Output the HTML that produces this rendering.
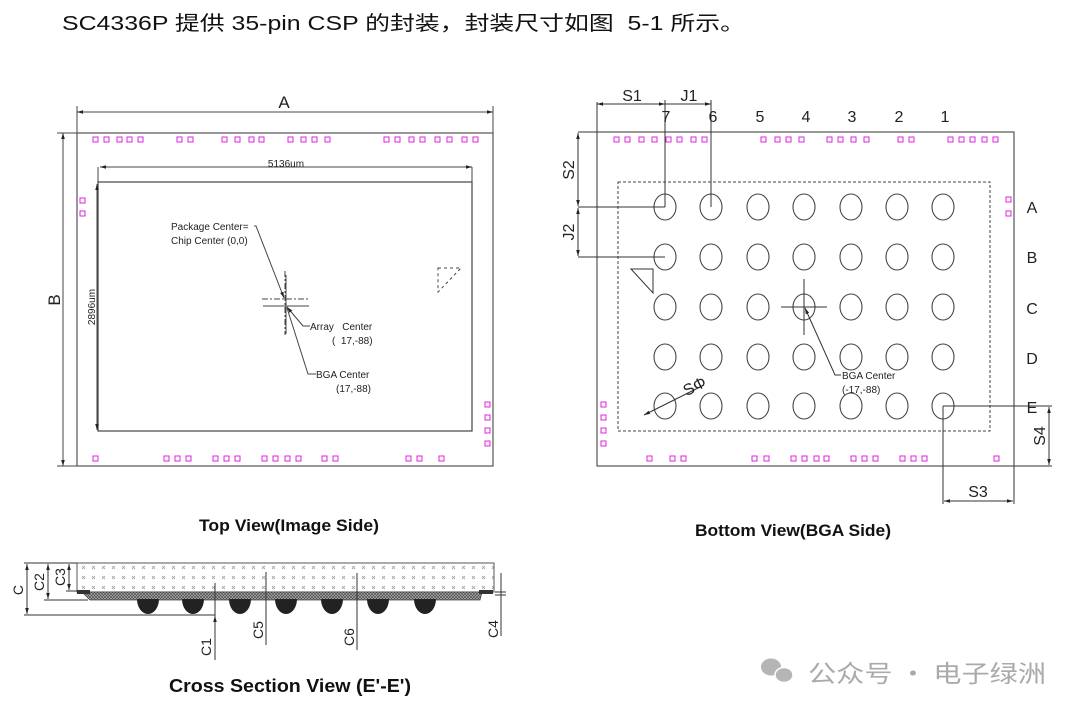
<!DOCTYPE html>
<html><head><meta charset="utf-8"><style>
html,body{margin:0;padding:0;background:#fff;}
svg{display:block;}
text{font-family:"Liberation Sans",Arial,sans-serif;}
</style></head><body>
<svg width="1080" height="715" viewBox="0 0 1080 715" xmlns="http://www.w3.org/2000/svg">
<defs>
<marker id="ar" viewBox="0 0 10 10" refX="10" refY="5" markerWidth="8" markerHeight="6" orient="auto-start-reverse"><path d="M0,2 L10,5 L0,8 z" fill="#222"/></marker>
<pattern id="dots" width="10" height="10" patternUnits="userSpaceOnUse" x="79" y="562"><path d="M3,4 l3,3 M3,7 l3,-3" stroke="#999" stroke-width="0.8"/></pattern>
<pattern id="xh" width="3" height="3" patternUnits="userSpaceOnUse"><rect width="3" height="3" fill="#aaa"/><path d="M0,0 L3,3 M3,0 L0,3" stroke="#444" stroke-width="0.6"/></pattern>
</defs>
<text x="62" y="30" font-size="20" fill="#111" textLength="683" lengthAdjust="spacingAndGlyphs" style="font-family:'Liberation Sans','Noto Sans CJK SC',sans-serif">SC4336P 提供 35-pin CSP 的封装，封装尺寸如图&#160; 5-1 所示。</text>

<!-- TOP VIEW -->
<g stroke="#555" fill="none" stroke-width="1.2">
<rect x="77" y="133" width="416" height="333"/>
<rect x="98" y="182" width="374" height="249" stroke="#444"/>
</g>
<g stroke="#444" stroke-width="1" fill="none">
<line x1="77" y1="112" x2="493" y2="112" marker-start="url(#ar)" marker-end="url(#ar)"/>
<line x1="77" y1="106" x2="77" y2="133"/><line x1="493" y1="106" x2="493" y2="133"/>
<line x1="63" y1="133" x2="63" y2="466" marker-start="url(#ar)" marker-end="url(#ar)"/>
<line x1="57" y1="133" x2="77" y2="133"/><line x1="57" y1="466" x2="77" y2="466"/>
<line x1="100" y1="167" x2="472" y2="167" marker-start="url(#ar)" marker-end="url(#ar)"/>
<line x1="98" y1="167" x2="98" y2="182"/><line x1="472" y1="167" x2="472" y2="182"/>
<line x1="97" y1="184" x2="97" y2="430" marker-start="url(#ar)" marker-end="url(#ar)"/>
<line x1="262" y1="299" x2="308" y2="299" stroke-dasharray="6,2,2,2"/>
<line x1="263" y1="306" x2="309" y2="306"/>
<line x1="285" y1="271" x2="285" y2="335" stroke-dasharray="6,2,2,2"/>
<line x1="286" y1="275" x2="286" y2="334"/>
<polyline points="254,226 256,226 284,298" marker-end="url(#ar)"/>
<polyline points="310,326 303,326 287,307" marker-end="url(#ar)"/>
<polyline points="316,374 308,374 287,308"/>
<path d="M438,268 L461,268 L438,292 Z" stroke-dasharray="3,3"/>
</g>
<text x="284" y="108" font-size="17" text-anchor="middle" fill="#222">A</text>
<text x="60" y="300" font-size="17" text-anchor="middle" fill="#222" transform="rotate(-90 60 300)">B</text>
<text x="286" y="167" font-size="10" text-anchor="middle" fill="#222">5136um</text>
<text x="95" y="307" font-size="10" text-anchor="middle" fill="#222" transform="rotate(-90 95 307)">2896um</text>
<g font-size="10" fill="#222">
<text x="171" y="230">Package Center=</text>
<text x="171" y="244">Chip Center (0,0)</text>
<text x="310" y="330">Array&#160;&#160; Center</text>
<text x="332" y="344">(&#160; 17,-88)</text>
<text x="316" y="378">BGA Center</text>
<text x="336" y="392">(17,-88)</text>
</g>
<g stroke="#e020e0" fill="none" stroke-width="1">
<!-- top row -->
<g transform="translate(0,137)">
<rect x="93" width="5" height="5"/><rect x="104" width="5" height="5"/><rect x="117" width="5" height="5"/><rect x="127" width="5" height="5"/><rect x="138" width="5" height="5"/><rect x="177" width="5" height="5"/><rect x="188" width="5" height="5"/><rect x="222" width="5" height="5"/><rect x="235" width="5" height="5"/><rect x="249" width="5" height="5"/><rect x="259" width="5" height="5"/><rect x="288" width="5" height="5"/><rect x="301" width="5" height="5"/><rect x="312" width="5" height="5"/><rect x="325" width="5" height="5"/><rect x="384" width="5" height="5"/><rect x="395" width="5" height="5"/><rect x="409" width="5" height="5"/><rect x="420" width="5" height="5"/><rect x="435" width="5" height="5"/><rect x="447" width="5" height="5"/><rect x="462" width="5" height="5"/><rect x="473" width="5" height="5"/>
</g>
<g transform="translate(0,456)">
<rect x="93" width="5" height="5"/><rect x="164" width="5" height="5"/><rect x="175" width="5" height="5"/><rect x="186" width="5" height="5"/><rect x="213" width="5" height="5"/><rect x="224" width="5" height="5"/><rect x="235" width="5" height="5"/><rect x="262" width="5" height="5"/><rect x="273" width="5" height="5"/><rect x="285" width="5" height="5"/><rect x="296" width="5" height="5"/><rect x="322" width="5" height="5"/><rect x="333" width="5" height="5"/><rect x="406" width="5" height="5"/><rect x="417" width="5" height="5"/><rect x="439" width="5" height="5"/>
</g>
<rect x="80" y="198" width="5" height="5"/><rect x="80" y="211" width="5" height="5"/>
<rect x="485" y="402" width="5" height="5"/><rect x="485" y="415" width="5" height="5"/><rect x="485" y="428" width="5" height="5"/><rect x="485" y="441" width="5" height="5"/>

<!-- bottom view pads -->
<g transform="translate(0,137)">
<rect x="614" width="5" height="5"/><rect x="625" width="5" height="5"/><rect x="639" width="5" height="5"/><rect x="652" width="5" height="5"/><rect x="666" width="5" height="5"/><rect x="677" width="5" height="5"/><rect x="691" width="5" height="5"/><rect x="702" width="5" height="5"/><rect x="761" width="5" height="5"/><rect x="775" width="5" height="5"/><rect x="786" width="5" height="5"/><rect x="799" width="5" height="5"/><rect x="827" width="5" height="5"/><rect x="838" width="5" height="5"/><rect x="851" width="5" height="5"/><rect x="864" width="5" height="5"/><rect x="898" width="5" height="5"/><rect x="909" width="5" height="5"/><rect x="948" width="5" height="5"/><rect x="959" width="5" height="5"/><rect x="970" width="5" height="5"/><rect x="982" width="5" height="5"/><rect x="993" width="5" height="5"/>
</g>
<g transform="translate(0,456)">
<rect x="647" width="5" height="5"/><rect x="670" width="5" height="5"/><rect x="681" width="5" height="5"/><rect x="752" width="5" height="5"/><rect x="764" width="5" height="5"/><rect x="791" width="5" height="5"/><rect x="802" width="5" height="5"/><rect x="814" width="5" height="5"/><rect x="824" width="5" height="5"/><rect x="851" width="5" height="5"/><rect x="862" width="5" height="5"/><rect x="873" width="5" height="5"/><rect x="900" width="5" height="5"/><rect x="911" width="5" height="5"/><rect x="922" width="5" height="5"/><rect x="994" width="5" height="5"/>
</g>
<rect x="1006" y="197" width="5" height="5"/><rect x="1006" y="211" width="5" height="5"/>
<rect x="601" y="402" width="5" height="5"/><rect x="601" y="415" width="5" height="5"/><rect x="601" y="428" width="5" height="5"/><rect x="601" y="441" width="5" height="5"/>
</g>

<!-- BOTTOM VIEW -->
<g stroke="#555" fill="none" stroke-width="1.2">
<rect x="597" y="132" width="417" height="334"/>
</g>
<rect x="618" y="182" width="372" height="249" fill="none" stroke="#444" stroke-width="1" stroke-dasharray="3,2"/>
<g stroke="#444" fill="none" stroke-width="1.1">
<ellipse cx="665" cy="207" rx="11" ry="13"/><ellipse cx="711" cy="207" rx="11" ry="13"/><ellipse cx="758" cy="207" rx="11" ry="13"/><ellipse cx="804" cy="207" rx="11" ry="13"/><ellipse cx="851" cy="207" rx="11" ry="13"/><ellipse cx="897" cy="207" rx="11" ry="13"/><ellipse cx="943" cy="207" rx="11" ry="13"/>
<ellipse cx="665" cy="257" rx="11" ry="13"/><ellipse cx="711" cy="257" rx="11" ry="13"/><ellipse cx="758" cy="257" rx="11" ry="13"/><ellipse cx="804" cy="257" rx="11" ry="13"/><ellipse cx="851" cy="257" rx="11" ry="13"/><ellipse cx="897" cy="257" rx="11" ry="13"/><ellipse cx="943" cy="257" rx="11" ry="13"/>
<ellipse cx="665" cy="307" rx="11" ry="13"/><ellipse cx="711" cy="307" rx="11" ry="13"/><ellipse cx="758" cy="307" rx="11" ry="13"/><ellipse cx="804" cy="307" rx="11" ry="13"/><ellipse cx="851" cy="307" rx="11" ry="13"/><ellipse cx="897" cy="307" rx="11" ry="13"/><ellipse cx="943" cy="307" rx="11" ry="13"/>
<ellipse cx="665" cy="357" rx="11" ry="13"/><ellipse cx="711" cy="357" rx="11" ry="13"/><ellipse cx="758" cy="357" rx="11" ry="13"/><ellipse cx="804" cy="357" rx="11" ry="13"/><ellipse cx="851" cy="357" rx="11" ry="13"/><ellipse cx="897" cy="357" rx="11" ry="13"/><ellipse cx="943" cy="357" rx="11" ry="13"/>
<ellipse cx="665" cy="406" rx="11" ry="13"/><ellipse cx="711" cy="406" rx="11" ry="13"/><ellipse cx="758" cy="406" rx="11" ry="13"/><ellipse cx="804" cy="406" rx="11" ry="13"/><ellipse cx="851" cy="406" rx="11" ry="13"/><ellipse cx="897" cy="406" rx="11" ry="13"/><ellipse cx="943" cy="406" rx="11" ry="13"/>
</g>
<g stroke="#333" fill="none" stroke-width="1">
<line x1="597" y1="104" x2="665" y2="104" marker-start="url(#ar)" marker-end="url(#ar)"/>
<line x1="665" y1="104" x2="711" y2="104" marker-end="url(#ar)"/>
<line x1="597" y1="102" x2="597" y2="132"/>
<line x1="665" y1="100" x2="665" y2="207"/>
<line x1="711" y1="100" x2="711" y2="207"/>
<line x1="578" y1="132" x2="597" y2="132"/>
<line x1="578" y1="207" x2="665" y2="207"/>
<line x1="578" y1="257" x2="665" y2="257"/>
<line x1="578" y1="133" x2="578" y2="206" marker-start="url(#ar)" marker-end="url(#ar)"/>
<line x1="578" y1="208" x2="578" y2="256" marker-start="url(#ar)" marker-end="url(#ar)"/>
<path d="M631,269 L653,269 L653,293 Z"/>
<line x1="781" y1="307" x2="827" y2="307"/>
<line x1="804" y1="279" x2="804" y2="335"/>
<polyline points="841,375 835,375 805,308" marker-end="url(#ar)"/>
<line x1="644" y1="415" x2="704" y2="385" marker-start="url(#ar)"/>
<line x1="943" y1="406" x2="1052" y2="406"/>
<line x1="943" y1="406" x2="943" y2="504"/>
<line x1="1014" y1="466" x2="1014" y2="504"/>
<line x1="1014" y1="466" x2="1052" y2="466"/>
<line x1="944" y1="501" x2="1013" y2="501" marker-start="url(#ar)" marker-end="url(#ar)"/>
<line x1="1049" y1="407" x2="1049" y2="465" marker-start="url(#ar)" marker-end="url(#ar)"/>
</g>
<g font-size="16" fill="#222" text-anchor="middle">
<text x="632" y="101">S1</text><text x="689" y="101">J1</text>
<text x="666" y="122">7</text><text x="713" y="122">6</text><text x="760" y="122">5</text><text x="806" y="122">4</text><text x="852" y="122">3</text><text x="899" y="122">2</text><text x="945" y="122">1</text>
<text x="1032" y="213">A</text><text x="1032" y="263">B</text><text x="1032" y="314">C</text><text x="1032" y="364">D</text><text x="1032" y="413">E</text>
<text x="978" y="497">S3</text>
<text x="574" y="170" transform="rotate(-90 574 170)">S2</text>
<text x="574" y="232" transform="rotate(-90 574 232)">J2</text>
<text x="1045" y="436" transform="rotate(-90 1045 436)">S4</text>
<text x="697" y="391" transform="rotate(-27 697 391)">SΦ</text>
</g>
<g font-size="10" fill="#222"><text x="842" y="379">BGA Center</text><text x="842" y="393">(-17,-88)</text></g>

<!-- titles -->
<g font-size="17" font-weight="bold" fill="#111" text-anchor="middle">
<text x="289" y="531" textLength="180" lengthAdjust="spacingAndGlyphs">Top View(Image Side)</text>
<text x="793" y="536" textLength="196" lengthAdjust="spacingAndGlyphs">Bottom View(BGA Side)</text>
<text x="290" y="692" font-size="18" textLength="242" lengthAdjust="spacingAndGlyphs">Cross Section View (E'-E')</text>
</g>

<!-- CROSS SECTION -->
<rect x="77" y="563" width="417" height="29" fill="url(#dots)" stroke="#555" stroke-width="1"/>
<path d="M82,592 L482,592 L480,600 L90,600 Z" fill="url(#xh)" stroke="#444" stroke-width="0.8"/>
<rect x="77" y="590" width="13" height="4" fill="#333"/><rect x="479" y="590" width="14" height="4" fill="#333"/>
<g fill="#222">
<path d="M137,599 A11,15 0 0 0 159,599 Z"/><path d="M182,599 A11,15 0 0 0 204,599 Z"/><path d="M229,599 A11,15 0 0 0 251,599 Z"/><path d="M275,599 A11,15 0 0 0 297,599 Z"/><path d="M321,599 A11,15 0 0 0 343,599 Z"/><path d="M367,599 A11,15 0 0 0 389,599 Z"/><path d="M414,599 A11,15 0 0 0 436,599 Z"/>
</g>
<g stroke="#333" fill="none" stroke-width="1">
<line x1="24" y1="563" x2="77" y2="563"/>
<line x1="24" y1="615" x2="215" y2="615"/>
<line x1="44" y1="600" x2="88" y2="600"/>
<line x1="66" y1="591" x2="77" y2="591"/>
<line x1="27" y1="564" x2="27" y2="614" marker-start="url(#ar)" marker-end="url(#ar)"/>
<line x1="48" y1="564" x2="48" y2="599" marker-start="url(#ar)" marker-end="url(#ar)"/>
<line x1="69" y1="564" x2="69" y2="590" marker-start="url(#ar)" marker-end="url(#ar)"/>
<line x1="215" y1="583" x2="215" y2="660"/>
<line x1="215" y1="630" x2="215" y2="616" marker-end="url(#ar)"/>
<line x1="266" y1="572" x2="266" y2="645"/>
<line x1="357" y1="573" x2="357" y2="650"/>
<line x1="501" y1="573" x2="501" y2="636"/>
<line x1="495" y1="592" x2="506" y2="592"/><line x1="495" y1="595" x2="506" y2="595"/>
</g>
<g font-size="14" fill="#222" text-anchor="middle">
<text x="23" y="590" transform="rotate(-90 23 590)">C</text>
<text x="44" y="582" transform="rotate(-90 44 582)">C2</text>
<text x="65" y="577" transform="rotate(-90 65 577)">C3</text>
<text x="211" y="647" transform="rotate(-90 211 647)">C1</text>
<text x="263" y="630" transform="rotate(-90 263 630)">C5</text>
<text x="354" y="637" transform="rotate(-90 354 637)">C6</text>
<text x="498" y="629" transform="rotate(-90 498 629)">C4</text>
</g>

<!-- watermark -->
<g fill="#b5b5b5">
<ellipse cx="771" cy="667" rx="10" ry="8.5"/>
<ellipse cx="784" cy="675" rx="9" ry="7.5" stroke="#fff" stroke-width="1.5"/>
</g>
<text x="808" y="682" font-size="24" fill="#aaa" style="font-family:'Noto Sans CJK SC',sans-serif" textLength="238" lengthAdjust="spacingAndGlyphs">公众号 · 电子绿洲</text>
</svg>
</body></html>
